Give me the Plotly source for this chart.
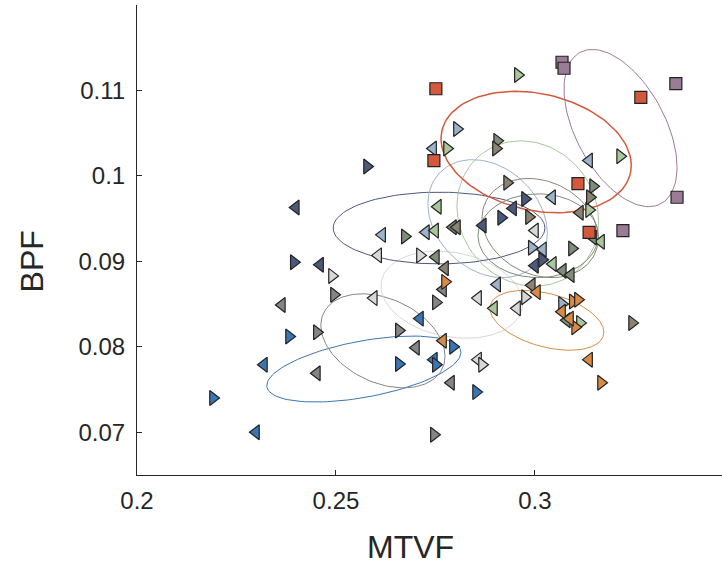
import numpy as np
import plotly.graph_objects as go

# ---------------- data (MTVF, BPF) per group ----------------
blue_x = [0.2191, 0.2299, 0.2319, 0.2382, 0.2711, 0.2794, 0.2658, 0.2746, 0.2751, 0.2852]
blue_y = [0.0740, 0.0700, 0.0779, 0.0812, 0.0833, 0.0800, 0.0780, 0.0785, 0.0779, 0.0747]
blue_s = ["R", "L", "L", "R", "L", "R", "R", "L", "R", "R"]

gray_x = [0.2364, 0.2495, 0.2452, 0.2452, 0.2769, 0.2751, 0.2658, 0.2701, 0.2789, 0.2746]
gray_y = [0.0849, 0.0861, 0.0817, 0.0769, 0.0867, 0.0852, 0.0819, 0.0799, 0.0758, 0.0697]
gray_s = ["L", "R", "R", "L", "L", "R", "R", "L", "L", "R"]

slate_x = [0.2399, 0.2394, 0.2460, 0.2578, 0.2869, 0.2915, 0.2975, 0.2945, 0.3000, 0.3018]
slate_y = [0.0963, 0.0899, 0.0896, 0.1011, 0.0942, 0.0951, 0.0973, 0.0962, 0.0895, 0.0902]
slate_s = ["L", "R", "L", "R", "L", "R", "R", "L", "L", "R"]

lgray_x = [0.2490, 0.2606, 0.2711, 0.2595, 0.2857, 0.2955, 0.2975, 0.2857, 0.2867, 0.3000]
lgray_y = [0.0883, 0.0907, 0.0907, 0.0857, 0.0857, 0.0845, 0.0858, 0.0785, 0.0779, 0.0936]
lgray_s = ["R", "L", "R", "L", "L", "L", "R", "L", "R", "L"]

lsteel_x = [0.2804, 0.2744, 0.3043, 0.3136, 0.2616, 0.2726, 0.2905, 0.2992, 0.3020, 0.3068]
lsteel_y = [0.1055, 0.1032, 0.0975, 0.1018, 0.0931, 0.0934, 0.0873, 0.0916, 0.0914, 0.0850]
lsteel_s = ["R", "L", "L", "L", "L", "L", "L", "R", "L", "R"]

lgreen_x = [0.2957, 0.2779, 0.3214, 0.3136, 0.2756, 0.2749, 0.3045, 0.2897, 0.3166, 0.3113]
lgreen_y = [0.1118, 0.1032, 0.1023, 0.0960, 0.0964, 0.0936, 0.0897, 0.0845, 0.0923, 0.0828]
lgreen_s = ["R", "R", "R", "R", "L", "L", "L", "L", "L", "R"]

ggreen_x = [0.2905, 0.2673, 0.2794, 0.2751, 0.3146, 0.3146, 0.3093, 0.3070, 0.3090, 0.3080]
ggreen_y = [0.1041, 0.0929, 0.0940, 0.0905, 0.0988, 0.0928, 0.0915, 0.0889, 0.0884, 0.0831]
ggreen_s = ["R", "R", "L", "L", "R", "L", "R", "L", "L", "L"]

taupe_x = [0.2902, 0.2930, 0.2985, 0.2804, 0.2774, 0.2992, 0.3138, 0.3113, 0.3244]
taupe_y = [0.1032, 0.0992, 0.0952, 0.0940, 0.0892, 0.0872, 0.0975, 0.0957, 0.0828]
taupe_s = ["R", "R", "R", "L", "L", "L", "R", "L", "R"]

orange_x = [0.2774, 0.2769, 0.3005, 0.3068, 0.3095, 0.3108, 0.3101, 0.3136, 0.3166, 0.3088]
orange_y = [0.0876, 0.0807, 0.0864, 0.0841, 0.0853, 0.0855, 0.0823, 0.0785, 0.0758, 0.0833]
orange_s = ["R", "L", "L", "L", "R", "R", "R", "L", "R", "L"]

red_x = [0.2751, 0.2746, 0.3266, 0.3108, 0.3136]
red_y = [0.1102, 0.1018, 0.1092, 0.0991, 0.0934]
red_s = ["S", "S", "S", "S", "S"]

purple_x = [0.3068, 0.3073, 0.3354, 0.3357, 0.3221]
purple_y = [0.1133, 0.1126, 0.1108, 0.0975, 0.0936]
purple_s = ["S", "S", "S", "S", "S"]

# ellipse parameters: centre x, centre y, half-extent x, half-extent y, correlation
ell_blue = (0.2570, 0.0774, 0.0244, 0.00386, 0.5)
ell_gray = (0.2618, 0.0807, 0.0156, 0.0055, -0.33)
ell_slate = (0.2759, 0.0939, 0.0266, 0.0042, 0.0)
ell_lgray = (0.2791, 0.0861, 0.0178, 0.0051, -0.2)
ell_lsteel = (0.2881, 0.0950, 0.0150, 0.0069, -0.25)
ell_lgreen = (0.2982, 0.0956, 0.0178, 0.0085, -0.1)
ell_ggreen = (0.3008, 0.0930, 0.0151, 0.0049, 0.0)
ell_taupe = (0.3013, 0.0939, 0.0146, 0.0058, -0.2)
ell_orange = (0.3030, 0.0831, 0.0143, 0.0035, -0.4)
ell_red = (0.3003, 0.1028, 0.0239, 0.0071, -0.22)
ell_purple = (0.3215, 0.1056, 0.0142, 0.0092, -0.5)

x_ticks = [0.2, 0.25, 0.3]
x_tick_text = ["0.2", "0.25", "0.3"]
y_ticks = [0.07, 0.08, 0.09, 0.10, 0.11]
y_tick_text = ["0.07", "0.08", "0.09", "0.1", "0.11"]

groups = [
    ("blue", blue_x, blue_y, blue_s, ell_blue, "#3b76b4", 1.0),
    ("gray", gray_x, gray_y, gray_s, ell_gray, "#858585", 1.0),
    ("lgray", lgray_x, lgray_y, lgray_s, ell_lgray, "#d8d8d8", 1.0),
    ("slate", slate_x, slate_y, slate_s, ell_slate, "#4b5a7c", 1.0),
    ("lsteel", lsteel_x, lsteel_y, lsteel_s, ell_lsteel, "#9cb3c9", 1.0),
    ("lgreen", lgreen_x, lgreen_y, lgreen_s, ell_lgreen, "#a8c79a", 1.0),
    ("ggreen", ggreen_x, ggreen_y, ggreen_s, ell_ggreen, "#7e8c7a", 1.0),
    ("taupe", taupe_x, taupe_y, taupe_s, ell_taupe, "#8a8372", 1.0),
    ("orange", orange_x, orange_y, orange_s, ell_orange, "#d98b45", 1.0),
    ("red", red_x, red_y, red_s, ell_red, "#d4583c", 1.5),
    ("purple", purple_x, purple_y, purple_s, ell_purple, "#9b7c97", 1.0),
]

sym_map = {"L": "triangle-left", "R": "triangle-right", "S": "square"}

fig = go.Figure()
t = np.linspace(0, 2 * np.pi, 120)
for name, xs, ys, ss, ell, col, lw in groups:
    cx, cy, sx, sy, rho = ell
    ex = cx + sx * np.cos(t)
    ey = cy + sy * (rho * np.cos(t) + np.sqrt(1 - rho ** 2) * np.sin(t))
    fig.add_trace(go.Scatter(x=ex, y=ey, mode="lines",
                             line=dict(color=col, width=lw),
                             hoverinfo="skip", showlegend=False))

for name, xs, ys, ss, ell, col, lw in groups:
    fig.add_trace(go.Scatter(
        x=xs, y=ys, mode="markers", showlegend=False, name=name,
        marker=dict(symbol=[sym_map[s] for s in ss],
                    size=[12 if s == "S" else 13 for s in ss],
                    color=col, opacity=1,
                    line=dict(color="#222222", width=1.2))))

axis_common = dict(showline=True, linecolor="#262626", linewidth=1,
                   ticks="inside", ticklen=5, tickcolor="#262626",
                   showgrid=False, zeroline=False,
                   tickfont=dict(family="Liberation Sans, Arial", size=24, color="#262626"))

fig.update_layout(
    width=722, height=565,
    margin=dict(l=137, r=0, t=5, b=90),
    plot_bgcolor="white", paper_bgcolor="white",
    xaxis=dict(range=[0.2, 0.347], tickvals=x_ticks, ticktext=x_tick_text,
               ticklabelstandoff=4, **axis_common),
    yaxis=dict(range=[0.065, 0.12], tickvals=y_ticks, ticktext=y_tick_text,
               ticklabelstandoff=6, **axis_common),
    annotations=[
        dict(text="MTVF", xref="paper", yref="paper", x=0.467, y=-0.153,
             xanchor="center", yanchor="middle", showarrow=False,
             font=dict(family="Liberation Sans, Arial", size=32, color="#262626")),
        dict(text="BPF", xref="paper", yref="paper", x=-0.179, y=0.455,
             xanchor="center", yanchor="middle", showarrow=False, textangle=-90,
             font=dict(family="Liberation Sans, Arial", size=32, color="#262626")),
    ],
)

fig.write_html("out.html")
